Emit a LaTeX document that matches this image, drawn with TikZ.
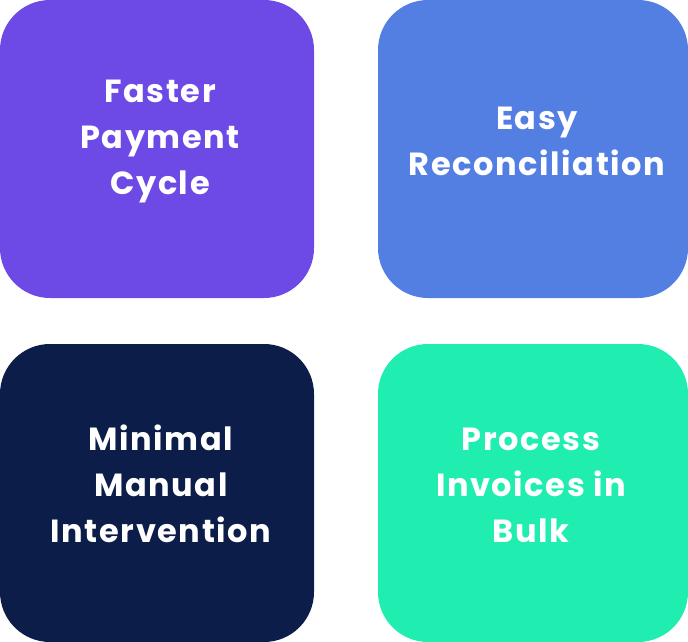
\documentclass[tikz,border=0pt]{standalone}
\usepackage{fontspec}
\setmainfont{Poppins}[LetterSpace=5]
\definecolor{cpurple}{HTML}{6D4AE5}
\definecolor{cblue}{HTML}{537FE3}
\definecolor{cnavy}{HTML}{0B1D48}
\definecolor{cgreen}{HTML}{20EDB0}
\begin{document}
\begin{tikzpicture}[x=1pt,y=-1pt,
  card/.style={rounded corners=50pt},
  label/.style={text=white, align=center, font=\fontsize{32}{46}\selectfont\bfseries, inner sep=0pt}]
\useasboundingbox (0,0) rectangle (688,642);
\fill[cpurple,card] (0,0) rectangle (314,298);
\fill[cblue,card] (378,0) rectangle (688,298);
\fill[cnavy,card] (0,344) rectangle (314,642);
\fill[cgreen,card] (378,344) rectangle (688,642);
\node[label] (t1) at (160,142) {Faster\\Payment\\Cycle};
\node[label] (t2) at (537,141) {Easy\\Reconciliation};
\node[label] (t3) at (161,484) {Minimal\\Manual\\Intervention};
\node[label] (t4) at (531,485) {Process\\Invoices in\\Bulk};
\end{tikzpicture}
\end{document}
